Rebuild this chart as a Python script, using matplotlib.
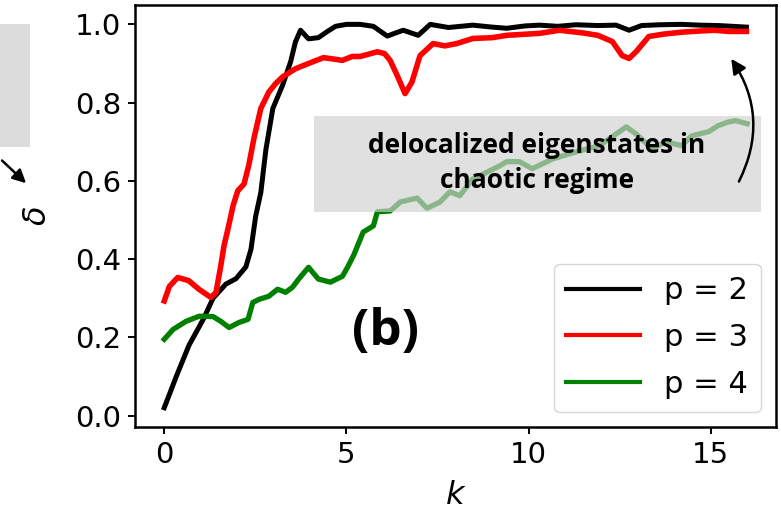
import numpy as np
import matplotlib
matplotlib.use("Agg")
import matplotlib.pyplot as plt
from matplotlib.patches import Rectangle

# delta vs k for the three values of p
k_p2 = [0, 0.33, 0.68, 1.07, 1.34, 1.69, 1.97, 2.24, 2.38, 2.51, 2.65, 2.79, 2.98, 3.25,
        3.47, 3.6, 3.74, 3.96, 4.23, 4.48, 4.7, 5.0, 5.38, 5.74, 6.12, 6.35, 6.56, 6.97,
        7.3, 7.8, 8.47, 9.0, 9.4, 9.9, 10.3, 10.8, 11.3, 11.9, 12.4, 12.76, 13.1, 13.6,
        14.2, 14.7, 15.2, 15.6, 15.98]
d_p2 = [0.02, 0.10, 0.18, 0.246, 0.30, 0.336, 0.35, 0.38, 0.425, 0.51, 0.57, 0.68, 0.785,
        0.845, 0.905, 0.955, 0.985, 0.963, 0.966, 0.982, 0.995, 1.0, 1.0, 0.995, 0.97,
        0.978, 0.985, 0.972, 1.0, 0.992, 0.998, 0.993, 0.99, 0.996, 0.998, 0.995, 0.999,
        0.997, 0.998, 0.985, 0.997, 0.999, 1.0, 0.998, 0.997, 0.995, 0.993]

k_p3 = [0, 0.14, 0.37, 0.67, 0.95, 1.28, 1.42, 1.55, 1.64, 1.77, 1.89, 2.02, 2.19, 2.32,
        2.46, 2.65, 2.87, 3.06, 3.25, 3.61, 3.96, 4.37, 4.89, 5.16, 5.38, 5.85, 6.05, 6.2,
        6.39, 6.61, 6.8, 7.02, 7.38, 7.7, 8.03, 8.47, 9.0, 9.4, 10.3, 10.85, 11.5, 11.9,
        12.3, 12.57, 12.76, 12.95, 13.3, 13.7, 14.2, 14.7, 15.1, 15.5, 15.98]
d_p3 = [0.293, 0.33, 0.353, 0.345, 0.323, 0.302, 0.315, 0.382, 0.434, 0.486, 0.537, 0.575,
        0.592, 0.64, 0.708, 0.785, 0.827, 0.849, 0.866, 0.887, 0.9, 0.915, 0.908, 0.918,
        0.918, 0.93, 0.925, 0.908, 0.87, 0.823, 0.853, 0.92, 0.951, 0.945, 0.951, 0.964,
        0.966, 0.972, 0.977, 0.985, 0.978, 0.972, 0.956, 0.92, 0.913, 0.93, 0.969, 0.975,
        0.98, 0.983, 0.985, 0.982, 0.982]

k_p4 = [0, 0.24, 0.6, 0.96, 1.34, 1.55, 1.78, 2.05, 2.3, 2.43, 2.6, 2.87, 3.11, 3.33, 3.52,
        3.69, 3.96, 4.23, 4.56, 4.89, 5.03, 5.2, 5.46, 5.74, 5.85, 6.2, 6.48, 6.94, 7.21,
        7.57, 7.84, 8.11, 8.47, 8.66, 9.2, 9.4, 9.75, 10.1, 10.66, 11.3, 11.94, 12.5,
        12.68, 12.95, 13.39, 13.77, 14.2, 14.48, 14.95, 15.2, 15.5, 15.68, 16.0]
d_p4 = [0.195, 0.22, 0.241, 0.254, 0.253, 0.241, 0.225, 0.238, 0.246, 0.289, 0.297, 0.305,
        0.323, 0.315, 0.328, 0.349, 0.379, 0.349, 0.341, 0.356, 0.379, 0.41, 0.469, 0.485,
        0.521, 0.523, 0.546, 0.556, 0.53, 0.546, 0.572, 0.562, 0.605, 0.613, 0.638, 0.649,
        0.649, 0.631, 0.656, 0.674, 0.69, 0.726, 0.738, 0.72, 0.682, 0.7, 0.69, 0.715,
        0.726, 0.741, 0.751, 0.754, 0.746]

labels = ["p = 2", "p = 3", "p = 4"]
colors = ["black", "red", "green"]

plt.rcParams["font.size"] = 21
plt.rcParams["axes.linewidth"] = 1.8

fig = plt.figure(figsize=(7.81, 5.2), dpi=100)
ax = fig.add_axes([0.173, 0.179, 0.821, 0.811])

ax.plot(k_p2, d_p2, color=colors[0], lw=3.6, label=labels[0])
ax.plot(k_p3, d_p3, color=colors[1], lw=4.0, label=labels[1])
ax.plot(k_p4, d_p4, color=colors[2], lw=3.8, label=labels[2])

ax.set_xticks([0, 5, 10, 15])
ax.set_yticks([0.0, 0.2, 0.4, 0.6, 0.8, 1.0])
ax.tick_params(length=5, width=1.4, labelsize=21, pad=5)
ax.set_xlabel(r"$k$", fontsize=23, labelpad=8)
ax.set_ylabel(r"$\delta$", fontsize=23, labelpad=16)

leg = ax.legend(loc="lower right", fontsize=22, handlelength=2.4, labelspacing=0.58,
                borderpad=0.42, handletextpad=0.8, frameon=True)
for h in leg.get_lines():
    h.set_linewidth(3.0)

# shaded label box over the upper right
ax.add_patch(Rectangle((4.1, 0.52), 12.29, 0.247, facecolor="#d1d1d1", alpha=0.67,
                       edgecolor="none", zorder=5))
ax.text(10.22, 0.646, "delocalized eigenstates in\nchaotic regime", ha="center",
        va="center", fontsize=19, fontweight="bold", family="Open Sans",
        linespacing=1.38, zorder=6)
ax.annotate("", xy=(15.52, 0.918), xytext=(15.74, 0.592),
            arrowprops=dict(arrowstyle="-|>", color="black", lw=1.8, mutation_scale=22,
                            connectionstyle="arc3,rad=0.3"), zorder=6)

ax.text(6.07, 0.213, "(b)", ha="center", va="center", fontsize=37, fontweight="bold",
        family="Open Sans")

# bits of the neighbouring panel on the left
fig.patches.append(Rectangle((0, 0.717), 0.038, 0.237, transform=fig.transFigure,
                             facecolor="#dcdcdc", edgecolor="none"))
fig.add_artist(matplotlib.patches.FancyArrowPatch((0.0, 0.695), (0.036, 0.644),
                                                  transform=fig.transFigure,
                                                  arrowstyle="-|>", mutation_scale=20,
                                                  lw=1.8, color="black"))

fig.savefig("out.png", dpi=100)
